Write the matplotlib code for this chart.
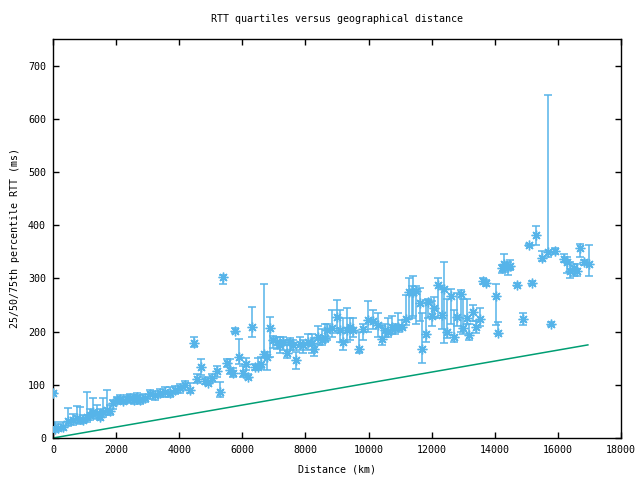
import matplotlib
matplotlib.use("Agg")
import matplotlib.pyplot as plt
import numpy as np

distance = [0, 60, 160, 320, 480, 630, 760, 860, 950, 1080, 1170, 1270, 1390, 1490, 1580, 1710, 1800, 1900,
            2030, 2120, 2220, 2340, 2450, 2560, 2660, 2760, 2910, 3070, 3230, 3390, 3550, 3710, 3870, 4020,
            4180, 4340, 4470, 4560, 4690, 4820, 4910, 5040, 5200, 5290, 5390, 5510, 5610, 5700, 5770, 5890,
            6020, 6120, 6180, 6310, 6400, 6500, 6590, 6690, 6780, 6880, 6970, 7100, 7190, 7290, 7410, 7510,
            7600, 7700, 7830, 7920, 8080, 8210, 8270, 8400, 8520, 8620, 8680, 8840, 9000, 9090, 9190, 9320,
            9410, 9510, 9700, 9820, 9980, 10140, 10300, 10420, 10520, 10610, 10740, 10840, 10930, 11060,
            11190, 11280, 11380, 11410, 11500, 11630, 11690, 11820, 11880, 12010, 12070, 12200, 12330, 12390,
            12480, 12610, 12710, 12800, 12930, 12990, 13120, 13180, 13310, 13400, 13530, 13620, 13720, 14040,
            14100, 14230, 14290, 14420, 14480, 14700, 14890, 15080, 15180, 15300, 15490, 15680, 15780, 15910,
            16190, 16290, 16380, 16510, 16600, 16700, 16820, 16980]
median = [85, 17, 19, 21, 32, 34, 38, 36, 34, 40, 43, 49, 47, 40, 49, 53, 51, 66,
          72, 73, 70, 73, 76, 72, 78, 72, 75, 83, 81, 85, 87, 85, 90, 94,
          100, 90, 179, 110, 134, 107, 104, 113, 126, 87, 303, 141, 128, 122, 202, 153,
          122, 139, 115, 209, 134, 134, 139, 158, 153, 207, 185, 181, 175, 181, 160, 181,
          175, 147, 177, 175, 181, 179, 168, 190, 185, 188, 203, 207, 228, 203, 181, 203,
          209, 203, 168, 205, 222, 220, 213, 186, 203, 200, 209, 207, 209, 209,
          224, 275, 275, 275, 277, 254, 168, 196, 256, 230, 245, 288, 232, 281,
          200, 267, 190, 228, 271, 207, 226, 194, 237, 209, 224, 296, 292, 267,
          198, 320, 328, 322, 324, 288, 224, 363, 292, 382, 339, 350, 215, 352,
          337, 330, 313, 320, 313, 358, 331, 328]
q25 = [84, 11, 13, 15, 22, 25, 28, 27, 28, 30, 33, 38, 36, 34, 40, 44, 44, 55,
       63, 66, 64, 66, 68, 64, 70, 64, 67, 73, 72, 77, 78, 77, 82, 84,
       90, 85, 171, 104, 119, 102, 100, 105, 115, 77, 290, 133, 120, 115, 197, 140,
       114, 128, 111, 190, 128, 128, 130, 150, 128, 153, 170, 168, 160, 165, 150, 165,
       165, 130, 165, 160, 165, 160, 155, 175, 175, 180, 185, 190, 198, 180, 165, 180,
       185, 190, 160, 185, 200, 205, 190, 175, 190, 190, 195, 195, 200, 205,
       212, 224, 225, 230, 215, 220, 141, 180, 225, 210, 225, 225, 205, 179,
       188, 215, 180, 210, 200, 195, 215, 185, 220, 198, 210, 290, 285, 213,
       195, 310, 312, 307, 315, 285, 212, 360, 287, 362, 332, 341, 210, 345,
       330, 310, 300, 305, 305, 340, 325, 305]
q75 = [86, 30, 27, 30, 56, 45, 60, 58, 44, 87, 55, 75, 62, 55, 75, 90, 62, 72,
       78, 80, 78, 80, 82, 80, 85, 80, 83, 90, 89, 92, 96, 95, 98, 102,
       108, 104, 190, 120, 149, 115, 113, 120, 135, 105, 307, 148, 148, 132, 206, 186,
       135, 150, 120, 247, 140, 150, 152, 290, 162, 228, 192, 190, 190, 190, 185, 188,
       185, 162, 190, 185, 195, 195, 188, 210, 205, 215, 215, 240, 260, 240, 225, 245,
       225, 225, 200, 215, 258, 240, 235, 210, 215, 225, 230, 215, 235, 222,
       268, 301, 285, 305, 285, 282, 235, 260, 262, 258, 265, 300, 280, 330,
       262, 280, 240, 272, 278, 262, 262, 215, 250, 220, 245, 300, 297, 290,
       218, 325, 345, 330, 335, 292, 235, 365, 295, 399, 352, 644, 218, 358,
       345, 340, 330, 327, 328, 365, 335, 363]

bound_dist = [0, 16950]
bound_rtt = [0, 175]

blue = "#56B4E9"
green = "#009E73"
fs = 7.2
plt.rcParams['font.family'] = ['DejaVu Sans Mono']
plt.rcParams['font.size'] = fs

fig = plt.figure(figsize=(6.4, 4.8), dpi=100)
ax = fig.add_axes([53/640, 42/480, 568/640, 399/480])

d = np.array(distance)
m = np.array(median)
lo = m - np.array(q25)
hi = np.array(q75) - m
ax.errorbar(d, m, yerr=[lo, hi], fmt='none', ecolor=blue, elinewidth=1.1,
            capsize=2.8, capthick=1.1, zorder=2)
ax.plot(d, m, linestyle='none', marker=(8, 2, 0), markersize=7, markeredgewidth=1.0,
        color=blue, zorder=3, clip_on=True)
ax.plot(bound_dist, bound_rtt, color=green, linewidth=1.1, zorder=2)

ax.set_xlim(0, 18000)
ax.set_ylim(0, 750)
ax.set_xticks(np.arange(0, 18001, 2000))
ax.set_yticks(np.arange(0, 701, 100))
ax.tick_params(direction='in', length=4, width=1, top=True, right=True, pad=5, labelsize=fs)
for s in ax.spines.values():
    s.set_linewidth(1.0)

ax.set_title("RTT quartiles versus geographical distance", fontsize=fs, pad=12)
ax.set_xlabel("Distance (km)", fontsize=fs, labelpad=7)
ax.set_ylabel("25/50/75th percentile RTT (ms)", fontsize=fs, labelpad=6)

fig.savefig("out.png", dpi=100)
